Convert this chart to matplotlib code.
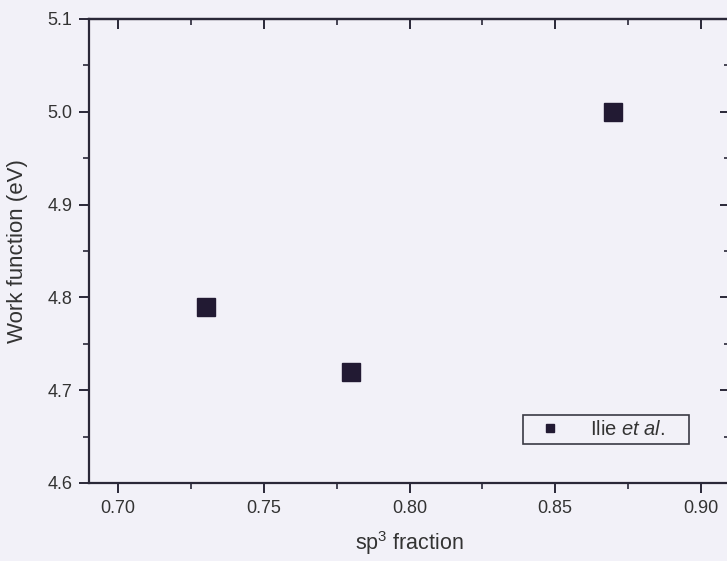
import matplotlib
matplotlib.use("Agg")
import matplotlib.pyplot as plt
from matplotlib.ticker import MultipleLocator, FormatStrFormatter

plt.rcParams["font.family"] = ["Liberation Sans", "DejaVu Sans"]
plt.rcParams["mathtext.fontset"] = "custom"
plt.rcParams["mathtext.rm"] = "Liberation Sans"
plt.rcParams["mathtext.it"] = "Liberation Sans:italic"

# sp3 fraction vs. work function
sp3_fraction = [0.73, 0.78, 0.87]
work_function = [4.79, 4.72, 5.00]
series_label = "Ilie $\\mathit{et\\ al.}\\hspace{0.8}\\mathrm{\u00a0}$"

x_limits = (0.69, 0.91)
y_limits = (4.6, 5.1)

ink = "#2a2838"
txt = "#333333"
bg = "#f2f1f8"

fig = plt.figure(figsize=(7.27, 5.61), dpi=100, facecolor=bg)
ax = fig.add_axes([89 / 727, (561 - 483) / 561, (730 - 89) / 727, (483 - 19) / 561])
ax.set_facecolor(bg)

ax.plot(sp3_fraction, work_function, linestyle="none", marker="s",
        markersize=12.5, color="#221a33", label=series_label)

ax.set_xlim(*x_limits)
ax.set_ylim(*y_limits)
ax.xaxis.set_major_locator(MultipleLocator(0.05))
ax.xaxis.set_minor_locator(MultipleLocator(0.025))
ax.yaxis.set_major_locator(MultipleLocator(0.1))
ax.yaxis.set_minor_locator(MultipleLocator(0.05))
ax.xaxis.set_major_formatter(FormatStrFormatter("%.2f"))
ax.yaxis.set_major_formatter(FormatStrFormatter("%.1f"))

for s in ax.spines.values():
    s.set_linewidth(1.6)
    s.set_color(ink)

ax.tick_params(which="major", direction="out", length=7, width=1.4,
               colors=ink, labelsize=13, labelcolor=txt, pad=5)
ax.tick_params(which="minor", direction="out", length=4, width=1.2, colors=ink)

# mirrored ticks on top and right, pointing inward
top = ax.secondary_xaxis("top")
top.xaxis.set_major_locator(MultipleLocator(0.05))
top.xaxis.set_minor_locator(MultipleLocator(0.025))
top.tick_params(which="major", direction="in", length=7, width=1.4, colors=ink, labeltop=False)
top.tick_params(which="minor", direction="in", length=4, width=1.2, colors=ink)
top.spines["top"].set_linewidth(1.6)
top.spines["top"].set_color(ink)

right = ax.secondary_yaxis("right")
right.yaxis.set_major_locator(MultipleLocator(0.1))
right.yaxis.set_minor_locator(MultipleLocator(0.05))
right.tick_params(which="major", direction="in", length=7, width=1.4, colors=ink, labelright=False)
right.tick_params(which="minor", direction="in", length=4, width=1.2, colors=ink)

ax.set_xlabel("sp$^3$ fraction", fontsize=15.5, color=txt, labelpad=9)
ax.set_ylabel("Work function (eV)", fontsize=16, color=txt, labelpad=14)

leg = ax.legend(loc="upper left", bbox_to_anchor=(523 / 727, (561 - 415) / 561),
                bbox_transform=fig.transFigure, fontsize=14.5, markerscale=0.46,
                handlelength=2.2, handletextpad=0.9, borderpad=0.25,
                fancybox=False, framealpha=1, edgecolor="#3a3a44",
                facecolor=bg, borderaxespad=0)
leg.get_frame().set_linewidth(1.2)
for t in leg.get_texts():
    t.set_color(txt)

fig.savefig("out.png", dpi=100, facecolor=bg)
